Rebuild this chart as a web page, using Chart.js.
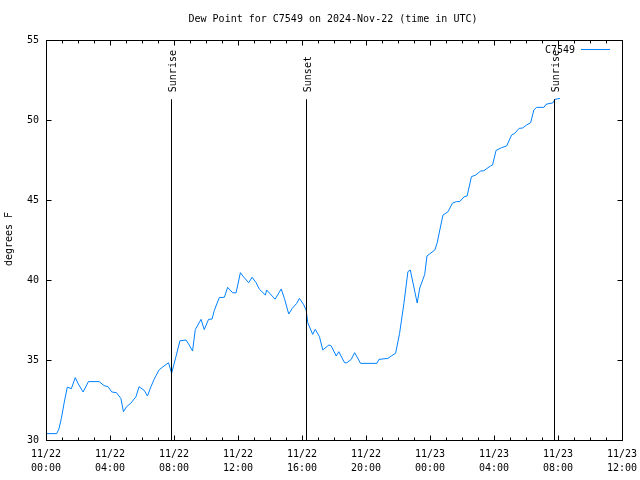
<!DOCTYPE html>
<html>
<head>
<meta charset="utf-8">
<script src="https://cdn.jsdelivr.net/npm/chart.js@4"></script>
<style>
  body { margin: 0; background: #fff; }
  canvas { display: block; }
</style>
</head>
<body>
<canvas id="dewChart" width="640" height="480"></canvas>
<script>
// --- Data (hours since 11/22 00:00 UTC, deg F) ---
const hours = [0.0, 0.67, 0.81, 0.96, 1.13, 1.33, 1.44, 1.58, 1.83, 2.02, 2.32, 2.65, 3.32, 3.63, 3.88,
    4.11, 4.40, 4.68, 4.84, 5.03, 5.30, 5.62, 5.82, 6.14, 6.34, 6.56, 6.76, 7.08, 7.28, 7.66, 7.85,
    8.12, 8.37, 8.75, 8.95, 9.16, 9.33, 9.69, 9.89, 10.16, 10.38, 10.52, 10.83, 11.15, 11.35, 11.67, 11.88,
    12.15, 12.34, 12.67, 12.88, 13.13, 13.34, 13.71, 13.79, 14.32, 14.70, 14.90, 15.17, 15.39, 15.67, 15.84,
    16.09, 16.26, 16.36, 16.67, 16.83, 17.09, 17.30, 17.68, 17.83, 18.14, 18.30, 18.66, 18.80, 19.08, 19.29,
    19.66, 20.68, 20.81, 21.37, 21.58, 21.85, 22.10, 22.37, 22.62, 22.77, 23.20, 23.36, 23.67, 23.81, 23.94,
    24.30, 24.44, 24.81, 25.13, 25.40, 25.65, 25.86, 26.13, 26.32, 26.59, 26.86, 27.16, 27.36, 27.78, 27.91,
    28.13, 28.47, 28.79, 29.10, 29.30, 29.57, 29.79, 30.04, 30.29, 30.49, 30.66, 31.12, 31.25, 31.50, 31.67,
    31.81, 32.12];
const dewPoint = [30.4, 30.4, 30.7, 31.35, 32.3, 33.3, 33.27, 33.2, 33.9, 33.5, 33.0, 33.65, 33.65, 33.4, 33.33,
    33.0, 32.96, 32.6, 31.77, 32.08, 32.3, 32.7, 33.33, 33.1, 32.75, 33.33, 33.8, 34.4, 34.55, 34.83, 34.17,
    35.2, 36.2, 36.25, 35.94, 35.56, 36.9, 37.54, 36.9, 37.54, 37.56, 38.1, 38.9, 38.92, 39.54, 39.2, 39.2,
    40.46, 40.2, 39.83, 40.17, 39.83, 39.42, 39.06, 39.375, 38.8, 39.44, 38.85, 37.875, 38.23, 38.54, 38.85,
    38.48, 38.125, 37.33, 36.6, 36.92, 36.46, 35.625, 35.94, 35.875, 35.25, 35.52, 34.83, 34.83, 35.04, 35.46,
    34.79, 34.79, 35.04, 35.1, 35.25, 35.42, 36.67, 38.54, 40.52, 40.625, 38.56, 39.5, 40.35, 41.5, 41.6,
    41.875, 42.29, 44.06, 44.27, 44.8, 44.9, 44.9, 45.2, 45.25, 46.46, 46.56, 46.81, 46.83, 47.125, 47.19,
    48.1, 48.27, 48.375, 49.06, 49.17, 49.48, 49.5, 49.69, 49.83, 50.625, 50.79, 50.79, 50.98, 51.04, 51.06,
    51.29, 51.35];

const eventNames = ['Sunrise', 'Sunset', 'Sunrise'];
const eventHours = [7.82, 16.22, 31.78];
const eventTop = 51.3;

const xTickHours = [0, 4, 8, 12, 16, 20, 24, 28, 32, 36];
const xTickDates = ['11/22', '11/22', '11/22', '11/22', '11/22', '11/22', '11/23', '11/23', '11/23', '11/23'];
const xTickTimes = ['00:00', '04:00', '08:00', '12:00', '16:00', '20:00', '00:00', '04:00', '08:00', '12:00'];
const yTicks = [30, 35, 40, 45, 50, 55];

const seriesName = 'C7549';
const titleText = 'Dew Point for C7549 on 2024-Nov-22 (time in UTC)';
const yTitle = 'degrees F';

const FONT = '"DejaVu Sans Mono", monospace';
const lineColor = 'rgb(0, 128, 255)';

// gnuplot-like frame, inward ticks, event markers, legend and titles
const gnuplotDecor = {
    id: 'gnuplotDecor',
    afterDatasetsDraw(chart) {
        const ctx = chart.ctx;
        const area = chart.chartArea;
        const xs = chart.scales.x;
        const ys = chart.scales.y;
        const L = Math.round(area.left) + 0.5;
        const R = Math.round(area.right) + 0.5;
        const T = Math.round(area.top) + 0.5;
        const B = Math.round(area.bottom) + 0.5;

        ctx.save();
        ctx.strokeStyle = '#000';
        ctx.lineWidth = 1;

        // event lines (sunrise / sunset)
        ctx.font = '10px ' + FONT;
        ctx.fillStyle = '#000';
        eventHours.forEach((h, i) => {
            const px = Math.round(xs.getPixelForValue(h)) + 0.5;
            const top = ys.getPixelForValue(eventTop);
            ctx.beginPath();
            ctx.moveTo(px, B);
            ctx.lineTo(px, top);
            ctx.stroke();
            ctx.save();
            ctx.translate(px + 4, top - 7);
            ctx.rotate(-Math.PI / 2);
            ctx.textAlign = 'left';
            ctx.textBaseline = 'alphabetic';
            ctx.fillText(eventNames[i], 0, 0);
            ctx.restore();
        });

        // frame
        ctx.strokeRect(L, T, R - L, B - T);

        // x ticks: major every 4 h, minor every hour
        ctx.beginPath();
        for (let h = xs.min; h <= xs.max; h++) {
            const px = Math.round(xs.getPixelForValue(h)) + 0.5;
            const len = xTickHours.includes(h) ? 5 : 3;
            ctx.moveTo(px, B);
            ctx.lineTo(px, B - len);
            ctx.moveTo(px, T);
            ctx.lineTo(px, T + len);
        }
        // y ticks
        yTicks.forEach(v => {
            const py = Math.round(ys.getPixelForValue(v)) + 0.5;
            ctx.moveTo(L, py);
            ctx.lineTo(L + 5, py);
            ctx.moveTo(R, py);
            ctx.lineTo(R - 5, py);
        });
        ctx.stroke();

        // legend
        ctx.textAlign = 'right';
        ctx.textBaseline = 'middle';
        ctx.fillText(seriesName, 575, 50);
        ctx.strokeStyle = lineColor;
        ctx.beginPath();
        ctx.moveTo(581, 49.5);
        ctx.lineTo(610, 49.5);
        ctx.stroke();

        // title
        ctx.fillStyle = '#000';
        ctx.textAlign = 'center';
        ctx.fillText(titleText, 333, 19);

        // y axis title
        ctx.save();
        ctx.translate(9, 239);
        ctx.rotate(-Math.PI / 2);
        ctx.textAlign = 'center';
        ctx.textBaseline = 'middle';
        ctx.fillText(yTitle, 0, 0);
        ctx.restore();

        ctx.restore();
    }
};

document.addEventListener('DOMContentLoaded', function () {
    const ctx = document.getElementById('dewChart');

    new Chart(ctx, {
        type: 'line',
        data: {
            datasets: [{
                label: seriesName,
                data: hours.map((h, i) => ({ x: h, y: dewPoint[i] })),
                borderColor: lineColor,
                borderWidth: 1,
                pointRadius: 0,
                tension: 0,
                fill: false
            }]
        },
        options: {
            responsive: false,
            animation: false,
            devicePixelRatio: 1,
            layout: { padding: { top: 40, right: 18, left: 0, bottom: 0 } },
            scales: {
                x: {
                    type: 'linear',
                    min: 0,
                    max: 36,
                    afterFit: s => {
                        s.height = 40;
                        s.paddingLeft = 0;
                        s.paddingRight = 0;
                    },
                    afterBuildTicks: s => { s.ticks = xTickHours.map(v => ({ value: v })); },
                    grid: { display: false, drawTicks: false, tickLength: 0 },
                    border: { display: false },
                    ticks: {
                        color: '#000',
                        font: { family: FONT, size: 10, lineHeight: 1.4 },
                        padding: 7,
                        maxRotation: 0,
                        autoSkip: false,
                        callback: v => {
                            const i = xTickHours.indexOf(v);
                            return i < 0 ? '' : [xTickDates[i], xTickTimes[i]];
                        }
                    }
                },
                y: {
                    min: 30,
                    max: 55,
                    afterFit: s => {
                        s.width = 46;
                        s.paddingTop = 0;
                        s.paddingBottom = 0;
                    },
                    afterBuildTicks: s => { s.ticks = yTicks.map(v => ({ value: v })); },
                    grid: { display: false, drawTicks: false, tickLength: 0 },
                    border: { display: false },
                    ticks: {
                        color: '#000',
                        font: { family: FONT, size: 10 },
                        padding: 7
                    }
                }
            },
            plugins: {
                legend: { display: false },
                title: { display: false },
                tooltip: { enabled: false }
            }
        },
        plugins: [gnuplotDecor]
    });
});
</script>
</body>
</html>
